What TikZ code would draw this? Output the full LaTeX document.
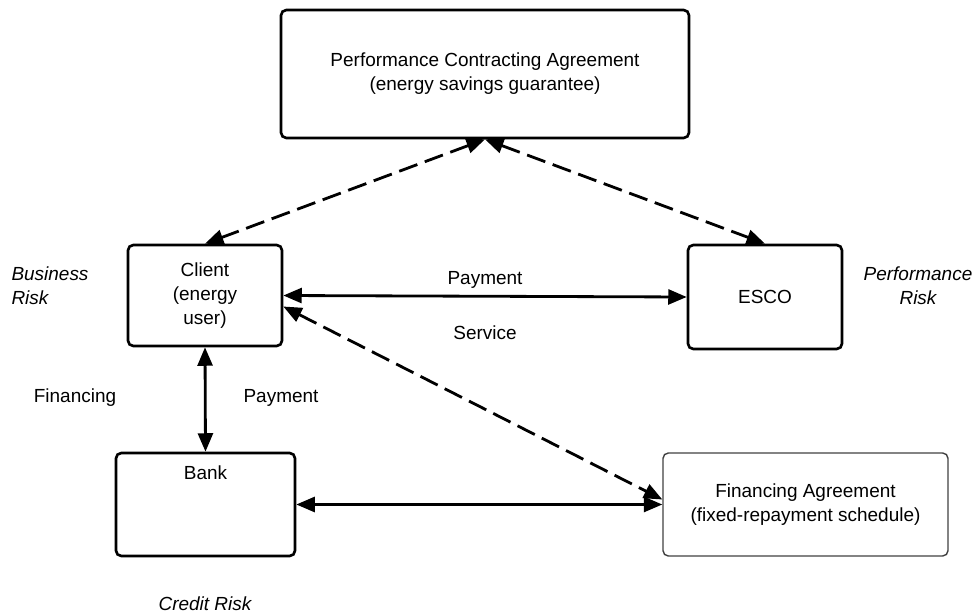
\documentclass[tikz,border=0pt]{standalone}
\usepackage{fontspec}
\setmainfont{Liberation Sans}
\usetikzlibrary{arrows.meta}

\begin{document}
\begin{tikzpicture}
            [x=0.02cm, y=-0.02cm,
            box/.style={draw, rounded corners=3pt, line width=1.5pt, align=center, inner sep=0pt,
                font=\fontsize{10.8}{13.6}\selectfont},
            lightbox/.style={box, line width=0.8pt, draw=black!75},
            link/.style={line width=1.6pt, {Triangle[length=10.5pt,width=8.5pt]}-{Triangle[length=10.5pt,width=8.5pt]}},
            contract/.style={link, dash pattern=on 11pt off 4.5pt},
            flow/.style={font=\fontsize{10.8}{13.6}\selectfont, align=center},
            risk/.style={flow, font=\fontsize{10.8}{13.6}\selectfont\itshape}]

            \useasboundingbox (0,0) rectangle (974,615);

            \node[box, minimum width=8.16cm, minimum height=2.56cm] (pca) at (485,74)
                {Performance Contracting Agreement\\(energy savings guarantee)};
            \node[box, minimum width=3.08cm, minimum height=2.02cm] (client) at (205,295.5)
                {Client\\(energy\\user)};
            \node[box, minimum width=3.08cm, minimum height=2.08cm] (esco) at (765,297) {ESCO};
            \node[box, minimum width=3.58cm, minimum height=2.06cm] (bank) at (205.5,504.5) {};
            \node[flow, anchor=north] (banktext) at ([yshift=-4.5pt]bank.north) {Bank};
            \node[lightbox, minimum width=5.7cm, minimum height=2.06cm] (fin) at (805.5,504.5)
                {Financing Agreement\\(fixed-repayment schedule)};

            % Risks carried by each party
            \node[risk, align=left] (busrisk) at (50,286) {Business\\Risk};
            \node[risk] (perfrisk) at (918,286) {Performance\\Risk};
            \node[risk] (credrisk) at (205,604) {Credit Risk};

            % Flows between the parties
            \node[flow] (pay1) at (485,280) {Payment};
            \node[flow] (serv) at (485,333) {Service};
            \node[flow] (financing) at (75,398) {Financing};
            \node[flow] (pay2) at (281,398) {Payment};

            \draw[contract] (pca.south) -- (client.north);
            \draw[contract] (pca.south) -- (esco.north);
            \draw[link] (client.east) -- (esco.west);
            \draw[contract] (client.-8) -- (fin.178);
            \draw[link] (client.south) -- (bank.north);
            \draw[link] (bank.east) -- (fin.west);

        \end{tikzpicture}
\end{document}
